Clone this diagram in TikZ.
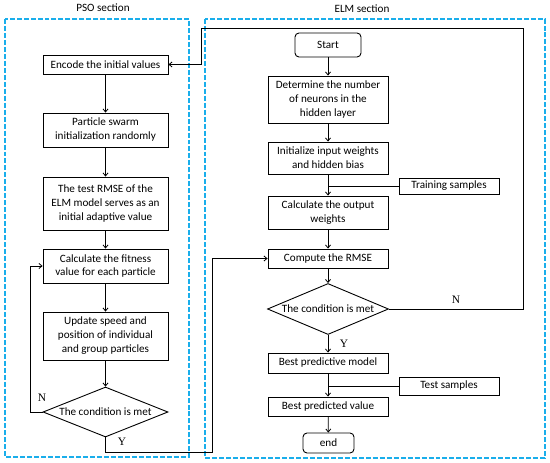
\documentclass[tikz,border=0pt]{standalone}
\usepackage{fontspec}
\setmainfont{Carlito}
\newfontfamily\ynfont{Liberation Serif}
\usetikzlibrary{arrows.meta, shapes.geometric}
\definecolor{secblue}{HTML}{1AAEEB}

\begin{document}
\begin{tikzpicture}[
  x=1bp, y=-1bp,
  box/.style={draw, line width=0.9pt, align=center, inner sep=1pt, font=\fontsize{11.2}{14}\selectfont},
  pbox/.style={box, minimum width=125bp},
  ebox/.style={box, minimum width=120bp},
  sidebox/.style={box, minimum width=100bp},
  term/.style={box, rounded corners=4pt},
  cond/.style={diamond, draw, line width=0.9pt, aspect=2.5, inner sep=-3pt, minimum width=125bp, minimum height=50bp, font=\fontsize{11.2}{14}\selectfont},
  arrow/.style={-{Straight Barb[length=3pt, width=5pt]}, line width=0.8pt},
  link/.style={line width=0.8pt},
  frame/.style={draw=secblue, line width=1.3pt, dash pattern=on 5pt off 2pt},
  yn/.style={font=\ynfont\fontsize{11.5}{13}\selectfont}
]
\useasboundingbox (0,0) rectangle (550,463);

% section frames
\draw[frame] (5,19) rectangle (189,457);
\draw[frame] (205,19) rectangle (545,458);
\node[font=\fontsize{11.2}{13}\selectfont] (psotitle) at (103,8) {PSO section};
\node[font=\fontsize{11.2}{13}\selectfont] (elmtitle) at (362,9) {ELM section};

% PSO side
\node[pbox, minimum height=19bp] (encode) at (105.5,64.5) {Encode the initial values};
\node[pbox, minimum height=34bp] (swarm) at (105.5,130) {Particle swarm\\initialization randomly};
\node[pbox, minimum height=53bp] (testrmse) at (105.5,203.5) {The test RMSE of the\\ELM model serves as an\\initial adaptive value};
\node[pbox, minimum height=34bp] (fitness) at (105.5,266) {Calculate the fitness\\value for each particle};
\node[pbox, minimum height=48bp] (update) at (105.5,336) {Update speed and\\position of individual\\and group particles};
\node[cond] (pcond) at (105.5,412) {The condition is met};

% ELM side
\node[term, minimum width=66bp, minimum height=24bp] (start) at (328,45) {Start};
\node[ebox, minimum height=47bp] (neurons) at (328,99.5) {Determine the number\\of neurons in the\\hidden layer};
\node[ebox, minimum height=32bp] (initw) at (328,158) {Initialize input weights\\and hidden bias};
\node[sidebox, minimum height=16bp] (train) at (449,186) {Training samples};
\node[ebox, minimum height=33bp] (outw) at (328,212.5) {Calculate the output\\weights};
\node[ebox, minimum height=19bp] (rmse) at (328,258.5) {Compute the RMSE};
\node[cond, minimum width=121bp, minimum height=51bp] (econd) at (328,309) {The condition is met};
\node[ebox, minimum height=20bp] (bestmodel) at (328,363) {Best predictive model};
\node[sidebox, minimum height=18bp] (test) at (449,386) {Test samples};
\node[ebox, minimum height=19bp] (bestval) at (328,406.5) {Best predicted value};
\node[term, minimum width=51bp, minimum height=20bp] (finish) at (328.5,443) {end};

% bends of the long connectors
\coordinate (ybend) at (212,452);
\coordinate (ntop) at (523,28);
\coordinate (nleft) at (201,28);

\draw[arrow] (encode) -- (swarm);
\draw[arrow] (swarm) -- (testrmse);
\draw[arrow] (testrmse) -- (fitness);
\draw[arrow] (fitness) -- (update);
\draw[arrow] (update) -- (pcond);
\draw[arrow] (pcond.west) -- ++(-12,0) |- (fitness.west);
\node[yn] (pno) at (42,398) {N};
\draw[arrow] (pcond.south) |- (ybend) |- (rmse.west);
\node[yn] (pyes) at (122,442) {Y};

\draw[arrow] (start) -- (neurons);
\draw[arrow] (neurons) -- (initw);
\draw[arrow] (initw) -- (outw);
\draw[link] (train.west) -- (train.west -| initw.south);
\draw[arrow] (outw) -- (rmse);
\draw[arrow] (rmse) -- (econd);
\draw[arrow] (econd) -- (bestmodel);
\node[yn] (eyes) at (344,344) {Y};
\draw[arrow] (bestmodel) -- (bestval);
\draw[link] (test.west) -- (test.west -| bestmodel.south);
\draw[arrow] (bestval) -- (finish);
\draw[arrow] (econd.east) -| (ntop) -- (nleft) |- (encode.east);
\node[yn] (eno) at (456,300) {N};
\end{tikzpicture}
\end{document}
